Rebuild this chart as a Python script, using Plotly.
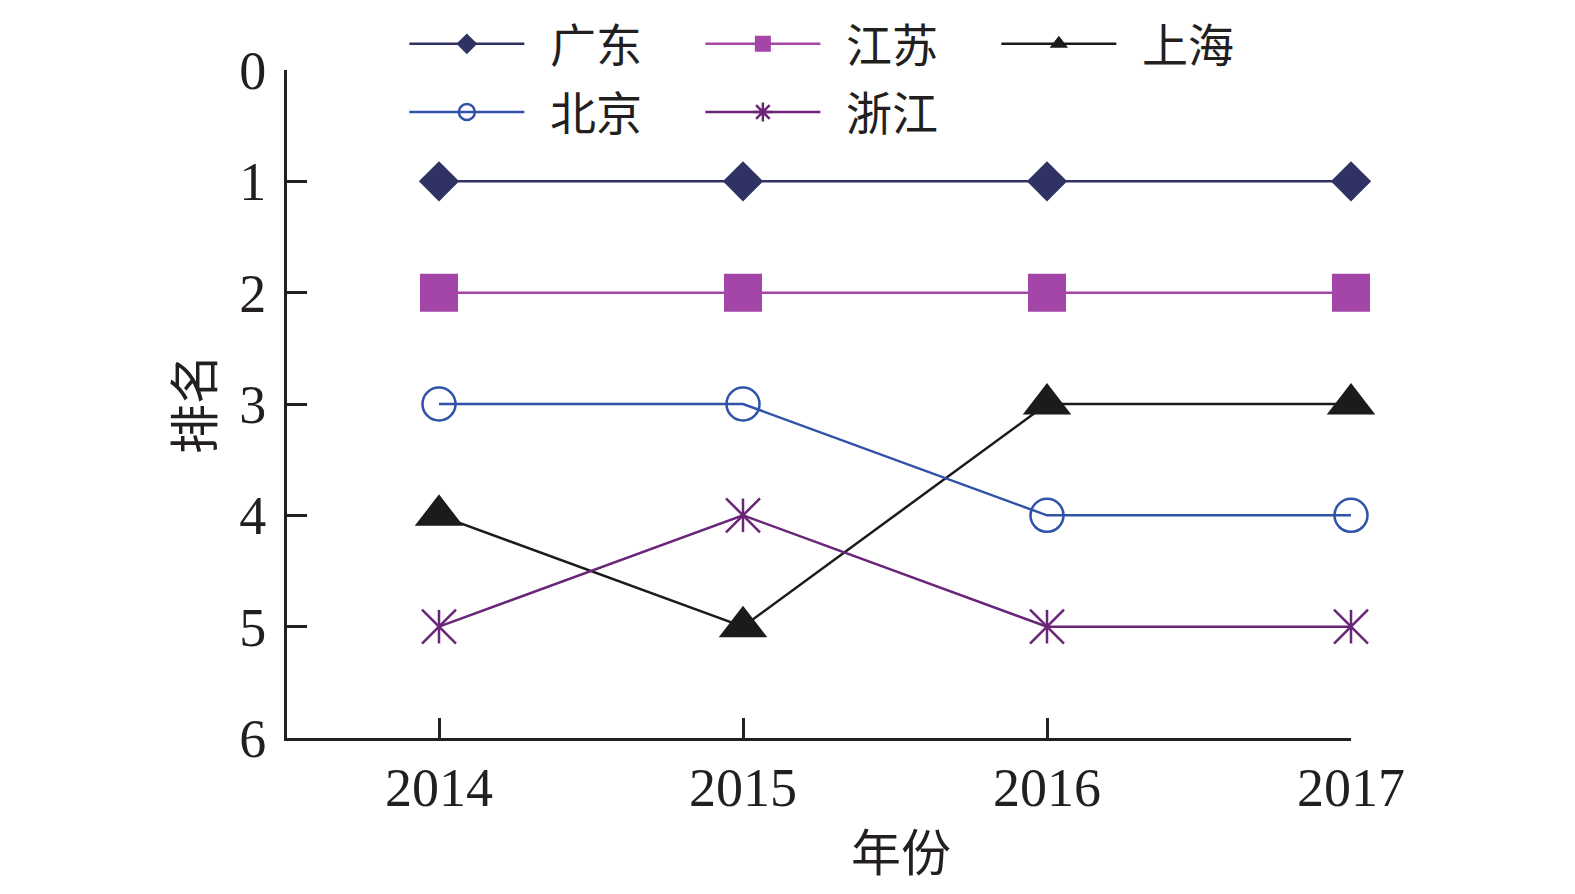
import plotly.graph_objects as go

# ranking of provinces by year (1 = best)
years = [2014, 2015, 2016, 2017]
guangdong = [1, 1, 1, 1]
jiangsu = [2, 2, 2, 2]
shanghai = [4, 5, 3, 3]
beijing = [3, 3, 4, 4]
zhejiang = [5, 4, 5, 5]

y_ticks = [0, 1, 2, 3, 4, 5, 6]

SERIF = "Liberation Serif, 'Times New Roman', serif"
CJK = "'Noto Sans CJK SC', sans-serif"
INK = '#231f20'
PAD = '\u00a0\u00a0'   # gap between legend line and its label

fig = go.Figure()


def _series(name, ys, color, symbol, size, legend, open_marker=False):
    marker = dict(symbol=symbol, size=size, color=color)
    if open_marker:
        marker['line'] = dict(color=color, width=2.5)
    else:
        marker['line'] = dict(width=0)
    fig.add_trace(go.Scatter(
        x=years, y=ys, name=PAD + name, mode='lines+markers',
        line=dict(color=color, width=2.5), marker=marker,
        legend=legend, cliponaxis=False,
    ))


_series('广东', guangdong, '#2f3262', 'diamond', 31, 'legend')
_series('江苏', jiangsu, '#a346a8', 'square', 38, 'legend')
_series('上海', shanghai, '#1c1a1b', 'triangle-up', 42, 'legend')
_series('北京', beijing, '#3052a8', 'circle-open', 33, 'legend2', open_marker=True)

# 浙江: six-armed star made of an x plus a vertical bar
zj = '#6a2478'
fig.add_trace(go.Scatter(
    x=years, y=zhejiang, name='浙江', mode='lines+markers',
    line=dict(color=zj, width=2.5),
    marker=dict(symbol='x-thin-open', size=34, color=zj, line=dict(color=zj, width=2.5)),
    showlegend=False, cliponaxis=False,
))
fig.add_trace(go.Scatter(
    x=years, y=zhejiang, mode='markers',
    marker=dict(symbol='line-ns-open', size=24, color=zj, line=dict(color=zj, width=2.5)),
    showlegend=False, cliponaxis=False, hoverinfo='skip',
))
# legend entry only
fig.add_trace(go.Scatter(
    x=[None], y=[None], name=PAD + '浙江', mode='lines+markers',
    line=dict(color=zj, width=2.5),
    marker=dict(symbol='asterisk-open', size=34, color=zj, line=dict(color=zj, width=2.5)),
    legend='legend2',
))

_leg = dict(
    orientation='h', xanchor='left', yanchor='middle',
    font=dict(family=CJK, size=46, color=INK),
    itemwidth=115, entrywidth=166, entrywidthmode='pixels',
    bgcolor='rgba(0,0,0,0)', borderwidth=0,
)

# page body has an 8px margin, so the figure is 16px smaller than the window
fig.update_layout(
    width=1559, height=878,
    paper_bgcolor='white', plot_bgcolor='white',
    margin=dict(l=279, r=216, t=62, b=148, autoexpand=False),
    showlegend=True,
    legend=dict(_leg, x=0.1103, y=1.039),
    legend2=dict(_leg, x=0.1103, y=0.937),
    xaxis=dict(
        range=[2013.5, 2017], tickmode='array', tickvals=years,
        ticktext=[str(y) for y in years],
        ticks='inside', ticklen=20, tickwidth=3, tickcolor=INK,
        showline=True, linewidth=3, linecolor=INK,
        showgrid=False, zeroline=False,
        tickfont=dict(family=SERIF, size=54, color=INK),
    ),
    yaxis=dict(
        range=[6, 0], tickmode='array', tickvals=y_ticks,
        ticks='inside', ticklen=20, tickwidth=3, tickcolor=INK,
        ticklabelstandoff=7,
        showline=True, linewidth=3, linecolor=INK,
        showgrid=False, zeroline=False,
        tickfont=dict(family=SERIF, size=54, color=INK),
        title=dict(text='排名', font=dict(family=CJK, size=50, color=INK), standoff=10),
    ),
    annotations=[dict(
        text='年份', xref='paper', yref='paper', x=0.577, y=0,
        xanchor='center', yanchor='middle', yshift=-111, showarrow=False,
        font=dict(family=CJK, size=50, color=INK),
    )],
)

fig.write_html("out.html")
